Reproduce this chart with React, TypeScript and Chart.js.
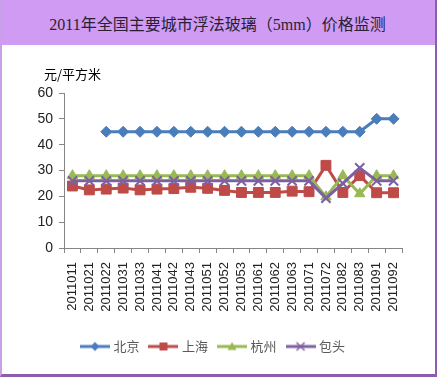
import React, { useEffect, useRef } from "react";
import { Chart, registerables } from "chart.js";

Chart.register(...registerables);

const chartTitle = "2011年全国主要城市浮法玻璃（5mm）价格监测";
const yUnit = "元/平方米";

const categories = [
  "2011011", "2011021", "2011022", "2011031", "2011033", "2011041", "2011042",
  "2011043", "2011051", "2011052", "2011053", "2011061", "2011062", "2011063",
  "2011071", "2011072", "2011082", "2011083", "2011091", "2011092",
];

const seriesNames = ["北京", "上海", "杭州", "包头"];

const beijing = [null, null, 45, 45, 45, 45, 45, 45, 45, 45, 45, 45, 45, 45, 45, 45, 45, 45, 50, 50];
const shanghai = [24, 22.5, 22.8, 23.2, 22.5, 22.8, 23, 23.5, 23.1, 22.3, 21.5, 21.5, 21.5, 22, 21.8, 32, 21.5, 28, 21.4, 21.4];
const hangzhou = [28, 28, 28, 28, 28, 28, 28, 28, 28, 28, 28, 28, 28, 28, 28, 19.8, 28, 21, 28, 28];
const baotou = [26, 26, 26, 26, 26, 26, 26, 26, 26, 26, 26, 26, 26, 26, 26, 19.3, 25, 31, 26, 26];

const yTicks = { min: 0, max: 60, step: 10 };

const colors = ["#4A7EBB", "#BE4B48", "#98B954", "#7D60A0"];
const styles = ["rectRot", "rect", "triangle", "crossRot"];
const radii = [5.5, 7, 6, 6.5];

function makeLegendImage(color: string, style: string): HTMLCanvasElement {
  const c = document.createElement("canvas");
  c.width = 30;
  c.height = 12;
  const g = c.getContext("2d")!;
  g.strokeStyle = color;
  g.fillStyle = color;
  g.lineWidth = 3;
  g.beginPath();
  g.moveTo(0, 6);
  g.lineTo(30, 6);
  g.stroke();
  const x = 15, y = 6;
  g.beginPath();
  if (style === "rectRot") {
    g.moveTo(x, y - 4.5);
    g.lineTo(x + 4.5, y);
    g.lineTo(x, y + 4.5);
    g.lineTo(x - 4.5, y);
    g.closePath();
    g.fill();
  } else if (style === "rect") {
    g.rect(x - 4, y - 4, 8, 8);
    g.fill();
  } else if (style === "triangle") {
    g.moveTo(x, y - 4.5);
    g.lineTo(x + 4.5, y + 3.5);
    g.lineTo(x - 4.5, y + 3.5);
    g.closePath();
    g.fill();
  } else {
    g.lineWidth = 1.5;
    g.moveTo(x - 4, y - 4);
    g.lineTo(x + 4, y + 4);
    g.moveTo(x + 4, y - 4);
    g.lineTo(x - 4, y + 4);
    g.stroke();
  }
  return c;
}

const yTitlePlugin = {
  id: "yTitle",
  afterDraw(chart: any) {
    const ctx = chart.ctx;
    ctx.save();
    ctx.font = '13px "Noto Sans CJK SC"';
    ctx.fillStyle = "#000";
    ctx.textBaseline = "middle";
    ctx.textAlign = "left";
    ctx.fillText(yUnit, chart.chartArea.left - 20, chart.chartArea.top - 19);
    ctx.restore();
  },
};

export default function App() {
  const ref = useRef<HTMLCanvasElement | null>(null);

  useEffect(() => {
    if (!ref.current) return;
    const allData = [beijing, shanghai, hangzhou, baotou];
    const chart = new Chart(ref.current, {
      type: "line",
      data: {
        labels: categories,
        datasets: allData.map((d, i) => ({
          label: seriesNames[i],
          data: d,
          yAxisID: "y",
          borderColor: colors[i],
          backgroundColor: colors[i],
          borderWidth: 3,
          pointStyle: styles[i],
          pointRadius: radii[i],
          pointBorderColor: colors[i],
          pointBackgroundColor: colors[i],
          pointBorderWidth: i === 3 ? 2 : 1,
          tension: 0,
          spanGaps: false,
          order: 4 - i,
        })),
      },
      options: {
        responsive: false,
        animation: false,
        layout: { padding: { left: 0, right: 9, top: 48, bottom: 10 } },
        plugins: {
          legend: {
            position: "bottom",
            labels: {
              usePointStyle: true,
              pointStyleWidth: 24,
              padding: 12,
              color: "#595959",
              font: { family: '"Noto Sans CJK SC"', size: 13 },
              generateLabels: (ch: any) =>
                ch.data.datasets.map((ds: any, i: number) => ({
                  text: ds.label,
                  datasetIndex: i,
                  pointStyle: makeLegendImage(colors[i], styles[i]),
                  fillStyle: colors[i],
                  strokeStyle: colors[i],
                  lineWidth: 0,
                  hidden: false,
                  fontColor: "#595959",
                })),
            },
          },
          tooltip: { enabled: false },
        },
        scales: {
          x: {
            type: "category",
            offset: true,
            grid: {
              offset: true,
              drawOnChartArea: false,
              drawTicks: true,
              tickLength: 5,
              color: "#868686",
            },
            border: { display: true, color: "#868686", width: 1 },
            ticks: {
              minRotation: 90,
              maxRotation: 90,
              autoSkip: false,
              padding: 9,
              color: "#222",
              font: { family: '"Liberation Sans", Arial', size: 13 },
            },
            afterFit: (s: any) => {
              s.height = 80;
            },
          },
          y: {
            min: yTicks.min,
            max: yTicks.max,
            grid: {
              drawOnChartArea: false,
              drawTicks: true,
              tickLength: 5,
              color: "#868686",
            },
            border: { display: true, color: "#868686", width: 1 },
            ticks: {
              stepSize: yTicks.step,
              padding: 6,
              color: "#222",
              font: { family: '"Liberation Sans", Arial', size: 14 },
            },
            afterFit: (s: any) => {
              s.width = 62;
            },
          },
          ySpacer: {
            type: "linear",
            position: "right",
            display: true,
            grid: { display: false, drawTicks: false },
            border: { display: false },
            ticks: { display: false },
            afterFit: (s: any) => {
              s.width = 24;
            },
          },
        },
      } as any,
      plugins: [yTitlePlugin],
    });
    return () => chart.destroy();
  }, []);

  return (
    <div
      style={{
        position: "fixed",
        left: 0,
        top: 0,
        width: 437,
        height: 377,
        boxSizing: "border-box",
        background: "#fff",
        borderLeft: "2px solid #C7A0E6",
        borderRight: "2px solid #8C5DAE",
        borderBottom: "3px solid #8C5DAE",
        overflow: "hidden",
      }}
    >
      <div
        style={{
          position: "absolute",
          left: -2,
          top: 0,
          width: 435,
          height: 45,
          background: "#CF9BF3",
          display: "flex",
          alignItems: "center",
          justifyContent: "center",
          fontFamily: '"Liberation Serif", "Noto Sans CJK SC", serif',
          fontSize: 16,
          color: "#2a1f33",
        }}
      >
        {chartTitle}
      </div>
      <canvas
        ref={ref}
        width={433}
        height={328}
        style={{ position: "absolute", left: 0, top: 45, display: "block" }}
      />
    </div>
  );
}
